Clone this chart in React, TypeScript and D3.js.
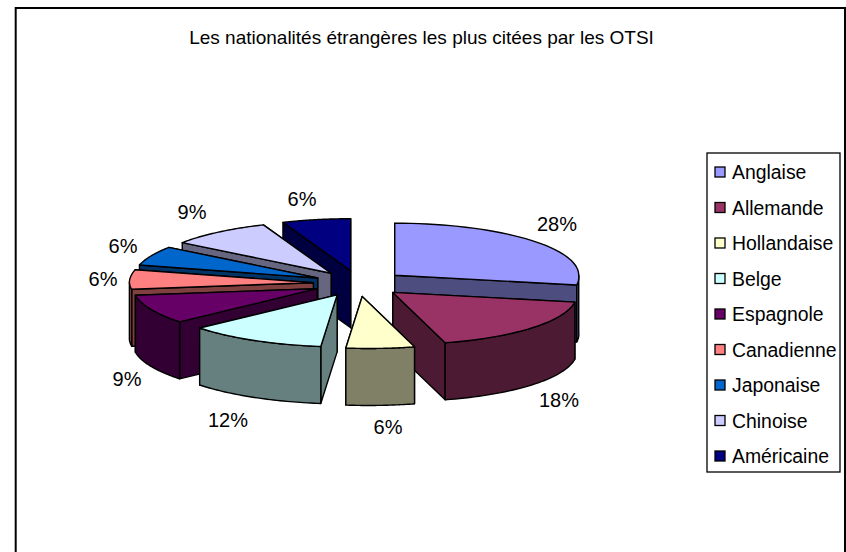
import React from "react";
import * as d3 from "d3";

const nationalities = ["Anglaise", "Allemande", "Hollandaise", "Belge", "Espagnole", "Canadienne", "Japonaise", "Chinoise", "Américaine"];
const shares = [28, 18, 6, 12, 9, 6, 6, 9, 6];
const colors = ["#9999FF", "#993366", "#FFFFCC", "#CCFFFF", "#660066", "#FF8080", "#0066CC", "#CCCCFF", "#000080"];
const drawOrder = [8, 0, 7, 6, 5, 4, 1, 3, 2];
const labelPositions: [number, number][] = [[557, 226], [559, 402], [388, 429], [228, 422], [127, 381], [103, 281], [123, 248], [192, 214], [302, 201]];
const titleText = "Les nationalités étrangères les plus citées par les OTSI";

const W = 846, H = 552;
const FONT = "'Liberation Sans', Arial, sans-serif";
const cx = 359.3, cy = 283.5, rx = 184, ry = 52, depth = 57, explode = 0.25, shear = 0.13;

const arcs = d3.pie<number>().sort(null)(shares);

function project(theta: number, r: number) {
  const dy = -Math.cos(theta) * ry * r;
  return [Math.sin(theta) * rx * r + shear * Math.max(0, dy), dy];
}

function slicePaths(a: d3.PieArcDatum<number>) {
  const mid = (a.startAngle + a.endAngle) / 2;
  const ox = cx + Math.sin(mid) * rx * explode;
  const oy = cy - Math.cos(mid) * ry * explode;
  const pt = (t: number, down = 0): [number, number] => {
    const [x, y] = project(t, 1);
    return [ox + x, oy + y + down];
  };
  const samples = (t0: number, t1: number) => d3.range(0, 41).map((i) => t0 + ((t1 - t0) * i) / 40);
  const line = d3.line();
  const top = line([[ox, oy], ...samples(a.startAngle, a.endAngle).map((t) => pt(t))])! + "Z";
  const wall = (t: number) => line([[ox, oy], pt(t), pt(t, depth), [ox, oy + depth]])! + "Z";
  const walls = [
    { d: wall(a.startAngle), front: -Math.cos(a.startAngle - Math.PI / 2) },
    { d: wall(a.endAngle), front: -Math.cos(a.endAngle + Math.PI / 2) },
  ].sort((p, q) => p.front - q.front);
  const r0 = Math.max(a.startAngle, Math.PI / 2);
  const r1 = Math.min(a.endAngle, (3 * Math.PI) / 2);
  let rim: string | null = null;
  if (r1 > r0) {
    const s = samples(r0, r1);
    rim = line([...s.map((t) => pt(t)), ...s.slice().reverse().map((t) => pt(t, depth))])! + "Z";
  }
  return { top, walls: walls.map((w) => w.d), rim };
}

const legendY = d3.scalePoint<string>().domain(nationalities).range([172, 456]);
const shade = (c: string) => {
  const k = d3.rgb(c);
  return d3.rgb(k.r / 2, k.g / 2, k.b / 2).formatHex();
};

export default function App() {
  return (
    <svg width={W} height={H} style={{ position: "fixed", left: 0, top: 0, background: "#fff" }} fontFamily={FONT}>
      <rect x={15.7} y={8} width={829.3} height={600} fill="#fff" stroke="#000" strokeWidth={2} />
      <text x={421.5} y={44} textAnchor="middle" fontSize={19} fill="#000">{titleText}</text>
      {drawOrder.map((i) => {
        const p = slicePaths(arcs[i]);
        const side = shade(colors[i]);
        return (
          <g key={i} stroke="#000" strokeWidth={1.4} strokeLinejoin="round">
            {p.walls.map((d, j) => <path key={j} d={d} fill={side} />)}
            {p.rim && <path d={p.rim} fill={side} />}
            <path d={p.top} fill={colors[i]} />
          </g>
        );
      })}
      {shares.map((v, i) => (
        <text key={i} x={labelPositions[i][0]} y={labelPositions[i][1]} textAnchor="middle" dominantBaseline="middle" fontSize={20} fill="#000">{v}%</text>
      ))}
      <rect x={707} y={153} width={133} height={319} fill="#fff" stroke="#000" strokeWidth={1.3} />
      {nationalities.map((n, i) => {
        const y = legendY(n)!;
        return (
          <g key={n}>
            <rect x={715} y={y - 5} width={10} height={10} fill={colors[i]} stroke="#000" strokeWidth={1.3} />
            <text x={732} y={y + 7} fontSize={19.4} fill="#000">{n}</text>
          </g>
        );
      })}
    </svg>
  );
}
